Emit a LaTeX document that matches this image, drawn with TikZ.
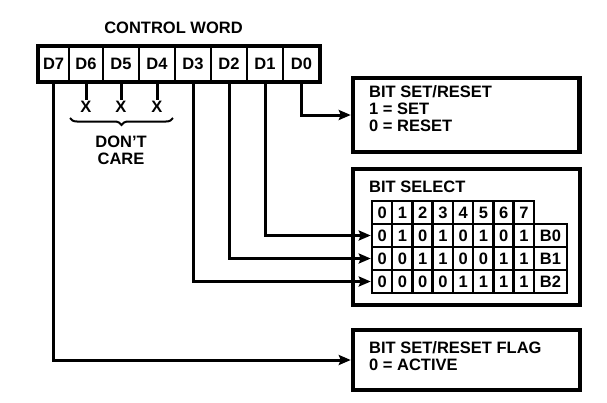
\documentclass[tikz,border=0pt]{standalone}
\usepackage{fontspec}
\setmainfont{Liberation Sans}
\usetikzlibrary{arrows.meta,decorations.pathreplacing,positioning}
\tikzset{>={Stealth[length=12pt,width=10pt,inset=2pt]}}
\tikzset{
  bitcell/.style={draw,line width=2pt,inner sep=0pt,outer sep=0pt,minimum height=35.6pt},
  tcell/.style={draw,line width=2.5pt,inner sep=0pt,minimum width=20.25pt,minimum height=23pt},
  panel/.style={draw,line width=4.5pt,inner sep=0pt},
  paneltext/.style={anchor=west,align=left,inner sep=0pt},
  wire/.style={line width=3pt},
}

\begin{document}
\begin{tikzpicture}[x=1pt,y=-1pt,font=\fontsize{16.5}{17}\selectfont\bfseries]
  \useasboundingbox (0,0) rectangle (607,402);

  % the control word and its bits
  \node at (173.5,28) (cw) {CONTROL WORD};
  \foreach \b/\cx/\w in {7/53.6/30.8,6/86/34,5/121/36,4/157/36,3/193/36,2/229/36,1/265/36,0/301.4/36.8}
    \node[bitcell,minimum width=\w] (d\b) at (\cx,64) {D\b};
  \draw[line width=4.5pt] (d7.north west) rectangle (d0.south east);

  % bits that are not used
  \foreach \b in {6,5,4} {
    \node[inner sep=1pt,below=18pt of d\b] (x\b) {X};
    \draw[wire] (d\b.south) -- (x\b.north);
  }
  \draw[line width=2pt,decorate,decoration={brace,mirror,amplitude=7pt}] (70,118) -- (173,118);
  \node[align=center] at (121,150) (dc) {DON'T\\CARE};

  % the three boxes on the right
  \node[panel,minimum width=226.5pt,minimum height=74pt] (bsr) at (466.25,115) {};
  \node[paneltext] at (369,108.5) (bsrtext) {BIT SET/RESET\\1 = SET\\0 = RESET};
  \node[panel,minimum width=227pt,minimum height=136pt] (bsel) at (466.5,237) {};
  \node[paneltext] at (369,186.5) (bseltext) {BIT SELECT};
  \node[panel,minimum width=227pt,minimum height=60pt] (flag) at (466.5,360) {};
  \node[paneltext] at (369,356) (flagtext) {BIT SET/RESET FLAG\\0 = ACTIVE};

  % bit select table
  \foreach \d in {0,...,7}
    \node[tcell] (hd\d) at (382.1+20.25*\d,212.5) {\d};
  \foreach \bits [count=\r from 0] in {{0,1,0,1,0,1,0,1},{0,0,1,1,0,0,1,1},{0,0,0,0,1,1,1,1}} {
    \foreach \v [count=\c from 0] in \bits
      \node[tcell] (row\r-\c) at (382.1+20.25*\c,235.5+23*\r) {\v};
    \node[tcell,minimum width=33pt] (row\r-b) at (550.5,235.5+23*\r) {B\r};
  }

  % connectors
  \draw[wire,->] (d0.south) |- (bsr.west);
  \draw[wire,->] (d1.south) |- (row0-0.west);
  \draw[wire,->] (d2.south) |- (row1-0.west);
  \draw[wire,->] (d3.south) |- (row2-0.west);
  \draw[wire,->] (d7.south) |- (flag.west);

\end{tikzpicture}
\end{document}
